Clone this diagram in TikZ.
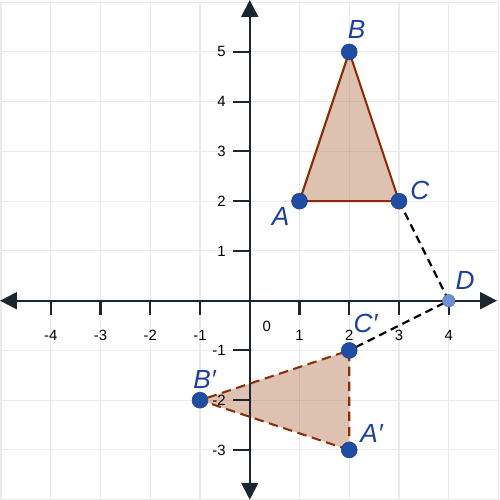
\documentclass[tikz,border=0pt]{standalone}
\usepackage{fontspec}
\setmainfont{Liberation Sans}
\usetikzlibrary{arrows.meta}
\definecolor{gridc}{HTML}{EAEAEA}
\definecolor{axisc}{HTML}{1B2631}
\definecolor{ptc}{HTML}{1F4DA3}
\definecolor{ptd}{HTML}{6F8FD4}
\definecolor{labc}{HTML}{1C3F9E}
\definecolor{edgec}{HTML}{8B2C06}
\definecolor{fillc}{HTML}{AA673F}
\begin{document}
\begin{tikzpicture}[x=1cm,y=1cm,
  axis/.style={line width=1.2pt, draw=axisc, {Triangle[length=0.34cm,width=0.34cm]}-{Triangle[length=0.34cm,width=0.34cm]}},
  tickmark/.style={line width=1.2pt, draw=axisc},
  ticklab/.style={font=\fontsize{8.5}{10}\selectfont, text=black, inner sep=0pt},
  tri/.style={fill=fillc, fill opacity=0.4},
  edge/.style={draw=edgec, line width=1.2pt, line join=round},
  dashedge/.style={draw=edgec, line width=1.2pt, dash pattern=on 5.4pt off 3.2pt},
  blackdash/.style={draw=black, line width=1.3pt, dash pattern=on 4.5pt off 2.9pt},
  pt/.style={circle, fill=ptc, draw=ptc!80!black, line width=0.3pt, minimum size=0.32cm, inner sep=0pt},
  ptlight/.style={circle, fill=ptd, draw=ptd!85!black, line width=0.3pt, minimum size=0.25cm, inner sep=0pt},
  lab/.style={font=\fontsize{15}{17}\selectfont\itshape, text=labc, inner sep=0pt}]
\useasboundingbox (-5.02,-4.006) rectangle (5.03,6.044);
% grid
\draw[gridc, line width=0.6pt] (-5,-4) grid (5,6);
% points (coordinates)
\coordinate (A) at (1,2);
\coordinate (B) at (2,5);
\coordinate (C) at (3,2);
\coordinate (D) at (4,0);
\coordinate (A1) at (2,-3);
\coordinate (B1) at (-1,-2);
\coordinate (C1) at (2,-1);
% fills
\fill[tri] (A) -- (B) -- (C) -- cycle;
\fill[tri] (A1) -- (B1) -- (C1) -- cycle;
% axes
\coordinate (xl) at (-5.02,0);
\coordinate (xr) at (4.97,0);
\coordinate (yb) at (0,-4.0);
\coordinate (yt) at (0,6.044);
\draw[axis] (xl) -- (xr);
\draw[axis] (yb) -- (yt);
\foreach \x in {-4,-3,-2,-1,1,2,3,4} {
  \draw[tickmark] (\x,0) -- (\x,-0.29);
  \node[ticklab] at (\x,-0.69) {\x};
}
\foreach \y in {-3,-2,-1,1,2,3,4,5} {
  \draw[tickmark] (0,\y) -- (-0.33,\y);
  \node[ticklab, anchor=east] at (-0.48,\y) {\y};
}
\node[ticklab] at (0.34,-0.51) {0};
% triangle edges
\draw[edge] (A) -- (B) -- (C) -- cycle;
\draw[dashedge] (A1) -- (B1) -- (C1) -- (A1);
% rotation construction
\draw[blackdash] (C) -- (D) -- (C1);
% point markers
\node[pt] (pA) at (A) {};
\node[pt] (pB) at (B) {};
\node[pt] (pC) at (C) {};
\node[ptlight] (pD) at (D) {};
\node[pt] (pA1) at (A1) {};
\node[pt] (pB1) at (B1) {};
\node[pt] (pC1) at (C1) {};
% labels
\node[lab] at (2.15,5.46) {B};
\node[lab] at (0.62,1.70) {A};
\node[lab] at (3.42,2.21) {C};
\node[lab] at (4.33,0.41) {D};
\node[lab] at (2.33,-0.46) {C′};
\node[lab] at (-0.91,-1.59) {B′};
\node[lab] at (2.45,-2.66) {A′};
\end{tikzpicture}
\end{document}
